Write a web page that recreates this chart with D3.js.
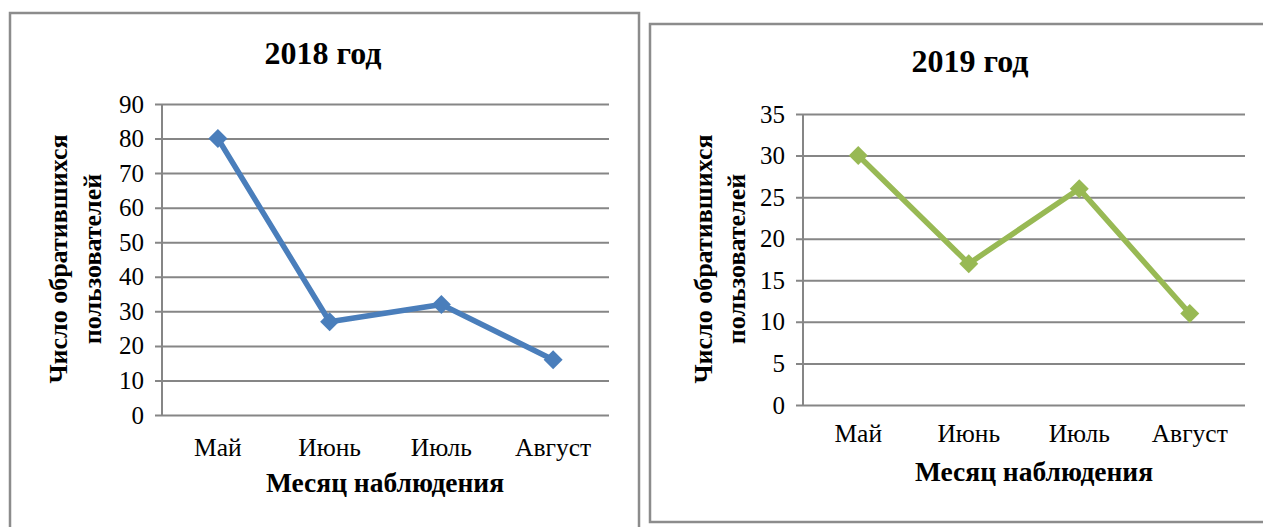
<!DOCTYPE html>
<html>
<head>
<meta charset="utf-8">
<script src="https://cdn.jsdelivr.net/npm/d3@7"></script>
<style>
  html, body { margin: 0; padding: 0; background: #fff; }
  svg { display: block; font-family: "Liberation Serif", "Times New Roman", serif; }
</style>
</head>
<body>
<div id="chart"></div>
<script>
//data
const months = ["Май", "Июнь", "Июль", "Август"];
const users2018 = [80, 27, 32, 16];
const users2019 = [30, 17, 26, 11];
const ticks2018 = [0, 10, 20, 30, 40, 50, 60, 70, 80, 90];
const ticks2019 = [0, 5, 10, 15, 20, 25, 30, 35];
const titles = ["2018 год", "2019 год"];
const yTitle = ["Число обратившихся", "пользователей"];
const xTitle = "Месяц наблюдения";

//size
const width = 1263;
const height = 527;

const svg = d3
  .select("#chart")
  .append("svg")
  .attr("width", width)
  .attr("height", height);

//chart layouts
const charts = [
  {
    title: titles[0],
    values: users2018,
    ticks: ticks2018,
    color: "#4a7ebb",
    box: { x: 10, y: 13, w: 629, h: 530 },
    plot: { left: 162, right: 609, top: 104, bottom: 415 },
    titleX: 323, titleY: 64,
    monthY: 456,
    xTitleX: 385, xTitleY: 492,
    yTitleX: [58, 92], yTitleY: 259,
  },
  {
    title: titles[1],
    values: users2019,
    ticks: ticks2019,
    color: "#98b954",
    box: { x: 650, y: 24, w: 620, h: 498 },
    plot: { left: 803, right: 1245, top: 114, bottom: 405 },
    titleX: 970, titleY: 72,
    monthY: 442,
    xTitleX: 1034, xTitleY: 481,
    yTitleX: [703, 736], yTitleY: 259,
  },
];

charts.forEach((c) => drawChart(svg, c));

function drawChart(svg, c) {
  const g = svg.append("g");

  //frame
  g.append("rect")
    .attr("x", c.box.x)
    .attr("y", c.box.y)
    .attr("width", c.box.w)
    .attr("height", c.box.h)
    .attr("fill", "#fff")
    .attr("stroke", "#8c8c8c")
    .attr("stroke-width", 2.5);

  //scales
  const x = d3
    .scaleBand()
    .domain(months)
    .range([c.plot.left, c.plot.right]);

  const y = d3
    .scaleLinear()
    .domain([0, d3.max(c.ticks)])
    .range([c.plot.bottom, c.plot.top]);

  //grid lines + y axis
  g.append("g")
    .attr("transform", `translate(${c.plot.left},0)`)
    .call(
      d3
        .axisLeft(y)
        .tickValues(c.ticks)
        .tickSize(-(c.plot.right - c.plot.left))
        .tickSizeOuter(0)
    )
    .call((a) => a.select(".domain").remove())
    .call((a) =>
      a
        .selectAll(".tick line")
        .attr("x1", -7)
        .attr("stroke", "#868686")
        .attr("stroke-width", 2)
    )
    .call((a) =>
      a
        .selectAll(".tick text")
        .attr("x", -18)
        .attr("fill", "#000")
        .attr("font-size", 25)
        .attr("font-family", "Liberation Serif")
    );

  //vertical axis line
  g.append("line")
    .attr("x1", c.plot.left)
    .attr("x2", c.plot.left)
    .attr("y1", c.plot.top)
    .attr("y2", c.plot.bottom)
    .attr("stroke", "#868686")
    .attr("stroke-width", 2);

  //month labels
  g.selectAll("text.month")
    .data(months)
    .join("text")
    .attr("class", "month")
    .attr("x", (d) => x(d) + x.bandwidth() / 2)
    .attr("y", c.monthY)
    .attr("text-anchor", "middle")
    .attr("font-size", 25.5)
    .text((d) => d);

  //line
  const line = d3
    .line()
    .x((d, i) => x(months[i]) + x.bandwidth() / 2)
    .y((d) => y(d));

  g.append("path")
    .datum(c.values)
    .attr("d", line)
    .attr("fill", "none")
    .attr("stroke", c.color)
    .attr("stroke-width", 5.5)
    .attr("stroke-linejoin", "round");

  //diamond markers
  g.selectAll("path.marker")
    .data(c.values)
    .join("path")
    .attr("class", "marker")
    .attr("d", d3.symbol(d3.symbolSquare, 180))
    .attr(
      "transform",
      (d, i) =>
        `translate(${x(months[i]) + x.bandwidth() / 2},${y(d)}) rotate(45)`
    )
    .attr("fill", c.color);

  //title
  g.append("text")
    .attr("x", c.titleX)
    .attr("y", c.titleY)
    .attr("text-anchor", "middle")
    .attr("font-size", 32)
    .attr("font-weight", "bold")
    .text(c.title);

  //x axis title
  g.append("text")
    .attr("x", c.xTitleX)
    .attr("y", c.xTitleY)
    .attr("text-anchor", "middle")
    .attr("font-size", 27.5)
    .attr("font-weight", "bold")
    .text(xTitle);

  //y axis title (two lines)
  yTitle.forEach((t, i) => {
    g.append("text")
      .attr("transform", `translate(${c.yTitleX[i]},${c.yTitleY}) rotate(-90)`)
      .attr("text-anchor", "middle")
      .attr("dominant-baseline", "central")
      .attr("font-size", 26)
      .attr("font-weight", "bold")
      .text(t);
  });
}
</script>
</body>
</html>
